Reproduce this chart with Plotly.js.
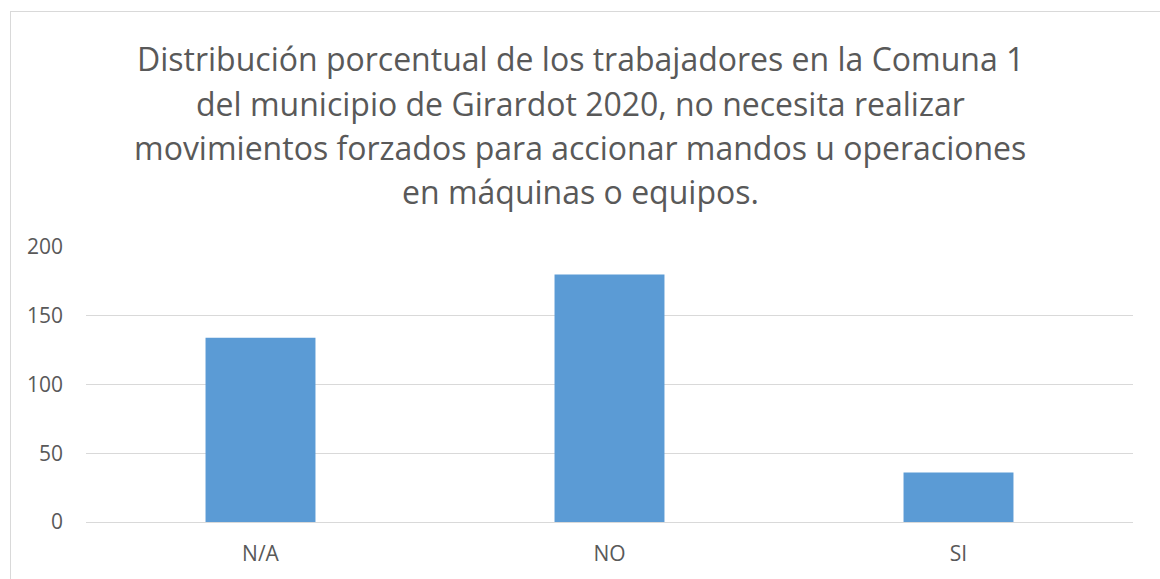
<!DOCTYPE html>
<html>
<head>
<meta charset="utf-8">
<script src="https://cdn.plot.ly/plotly-3.0.1.min.js"></script>
<style>
  html, body { margin: 0; padding: 0; background: #ffffff; }
  #wrap { position: relative; width: 1160px; height: 579px; overflow: hidden; }
  #chart { position: absolute; left: 0; top: 0; width: 1160px; height: 579px; }
  #frame { position: absolute; left: 10px; top: 11px; width: 1160px; height: 600px;
           border-top: 1px solid #d9d9d9; border-left: 1px solid #d9d9d9; pointer-events: none; }
</style>
</head>
<body>
<div id="wrap">
  <div id="chart"></div>
  <div id="frame"></div>
</div>
<script>
const categories = ["N/A", "NO", "SI"];
const values = [134, 180, 36];
const titleLines = [
  "Distribución porcentual de los trabajadores en la Comuna 1",
  "del municipio de Girardot 2020, no necesita realizar",
  "movimientos forzados para accionar mandos u operaciones",
  "en máquinas o equipos."
];
const yTicks = [0, 50, 100, 150, 200];

const plotLeft = 86, plotRight = 1133, plotTop = 247, plotBottom = 522;
const W = 1160, H = 579;
const paperW = plotRight - plotLeft, paperH = plotBottom - plotTop;
const lineCenters = [58, 103, 147, 191];

const annotations = titleLines.map((t, i) => ({
  text: t,
  xref: 'paper', yref: 'paper',
  x: (W / 2 - plotLeft) / paperW,
  y: (plotBottom - lineCenters[i]) / paperH,
  xanchor: 'center', yanchor: 'middle',
  showarrow: false,
  font: { family: 'Open Sans, sans-serif', size: 32, color: '#595959' }
}));

const trace = {
  type: 'bar',
  x: categories,
  y: values,
  marker: { color: '#5b9bd5' },
  hoverinfo: 'x+y'
};

const layout = {
  width: W, height: H,
  margin: { l: plotLeft, r: W - plotRight, t: plotTop, b: H - plotBottom, pad: 0 },
  paper_bgcolor: '#ffffff',
  plot_bgcolor: '#ffffff',
  showlegend: false,
  bargap: 0.685,
  annotations: annotations,
  font: { family: 'Open Sans, sans-serif', color: '#595959' },
  xaxis: {
    type: 'category',
    showgrid: false,
    zeroline: false,
    showline: false,
    ticks: '',
    ticklabelstandoff: 17,
    tickfont: { family: 'Open Sans, sans-serif', size: 21, color: '#595959' }
  },
  yaxis: {
    range: [0, 200],
    tickvals: yTicks,
    ticktext: yTicks.map(String),
    showgrid: true,
    gridcolor: '#d9d9d9',
    gridwidth: 1,
    zeroline: true,
    zerolinecolor: '#d9d9d9',
    zerolinewidth: 1,
    showline: false,
    ticks: '',
    ticklabelstandoff: 22,
    tickfont: { family: 'Open Sans, sans-serif', size: 21, color: '#595959' },
    fixedrange: true
  }
};

Plotly.newPlot('chart', [trace], layout, { displayModeBar: false, staticPlot: true });
</script>
</body>
</html>
